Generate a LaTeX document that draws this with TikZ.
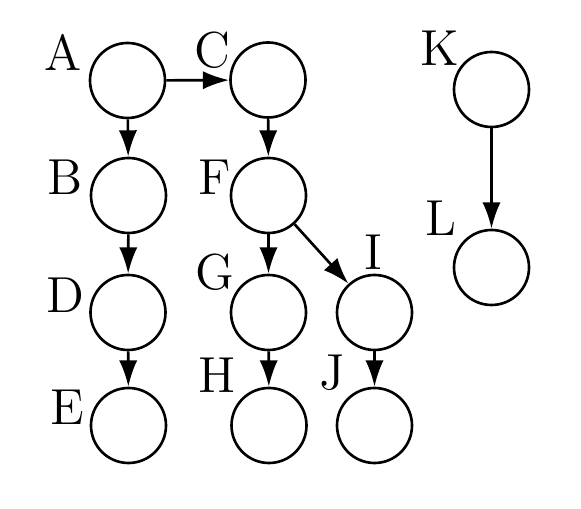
\documentclass[tikz,border=0pt]{standalone}
\usetikzlibrary{arrows.meta}
\tikzset{
  vertex/.style={circle,draw,line width=0.75pt,minimum size=0.75cm,inner sep=0pt},
  tag/.style={font=\Large,inner sep=0pt},
  edge/.style={line width=0.75pt,-{Latex[length=7.5pt,width=5.2pt]}}
}
\begin{document}
\begin{tikzpicture}
  \useasboundingbox (0,0) rectangle (5.81,5.09);
  % first column
  \node[vertex] (A) at (1.275,4.285) {};
  \node[vertex] (B) at (1.285,3.135) {};
  \node[vertex] (D) at (1.28,1.965) {};
  \node[vertex] (E) at (1.285,0.835) {};
  % second column
  \node[vertex] (C) at (2.68,4.29) {};
  \node[vertex] (F) at (2.685,3.135) {};
  \node[vertex] (G) at (2.685,1.965) {};
  \node[vertex] (H) at (2.69,0.835) {};
  % third column
  \node[vertex] (I) at (3.745,1.965) {};
  \node[vertex] (J) at (3.745,0.835) {};
  % separate pair
  \node[vertex] (K) at (4.915,4.195) {};
  \node[vertex] (L) at (4.915,2.415) {};
  % letters
  \node[tag] (lA) at (0.63,4.57) {A};
  \node[tag] (lC) at (2.12,4.59) {C};
  \node[tag] (lK) at (4.40,4.61) {K};
  \node[tag] (lB) at (0.65,3.32) {B};
  \node[tag] (lF) at (2.15,3.32) {F};
  \node[tag] (lL) at (4.41,2.91) {L};
  \node[tag] (lD) at (0.65,2.14) {D};
  \node[tag] (lG) at (2.15,2.37) {G};
  \node[tag] (lI) at (3.73,2.57) {I};
  \node[tag] (lE) at (0.67,1.02) {E};
  \node[tag] (lH) at (2.17,1.34) {H};
  \node[tag] (lJ) at (3.32,1.36) {J};
  % arrows
  \draw[edge] (A) -- (C);
  \draw[edge] (A) -- (B);
  \draw[edge] (B) -- (D);
  \draw[edge] (D) -- (E);
  \draw[edge] (C) -- (F);
  \draw[edge] (F) -- (G);
  \draw[edge] (F) -- (I);
  \draw[edge] (G) -- (H);
  \draw[edge] (I) -- (J);
  \draw[edge] (K) -- (L);
\end{tikzpicture}
\end{document}
